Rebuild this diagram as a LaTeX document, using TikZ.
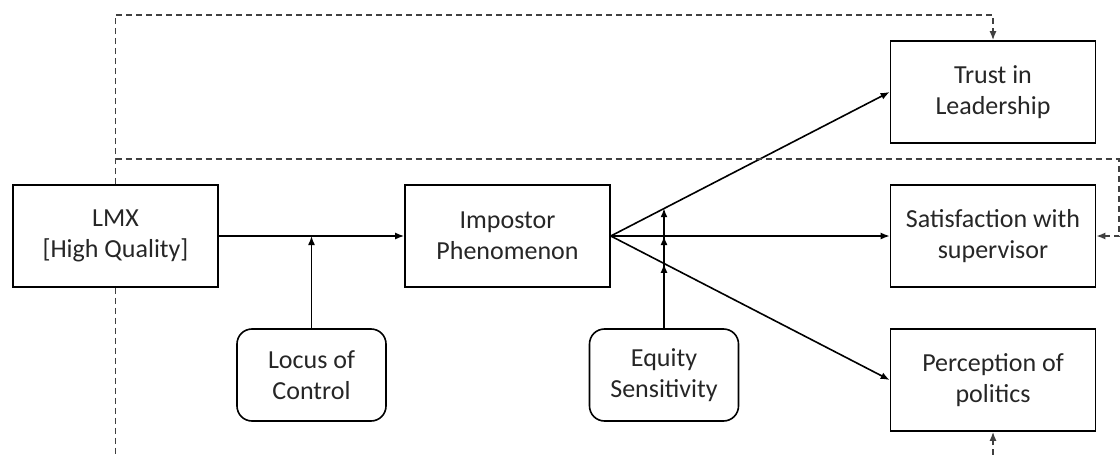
\documentclass[tikz,border=0pt]{standalone}
\usepackage{fontspec}
\setmainfont{Carlito}
\usetikzlibrary{arrows.meta,calc}

\begin{document}
\begin{tikzpicture}[x=0.5pt,y=-0.5pt,
  font=\fontsize{13}{15.5}\selectfont,
  box/.style={draw,line width=0.8pt,minimum width=102.5pt,minimum height=51pt,align=center,inner sep=0pt,text=black!85},
  mod/.style={draw,line width=0.8pt,rounded corners=7.5pt,minimum width=74.5pt,minimum height=46pt,align=center,inner sep=0pt,text=black!85},
  link/.style={line width=0.8pt,-{Latex[length=4.5pt,width=3.5pt]}},
  dashlink/.style={line width=0.8pt,black!75,dash pattern=on 3pt off 2pt}]
\useasboundingbox (0,0) rectangle (1120,455);

% outcome and predictor boxes
\node[box] (lmx)   at (115.5,236) {LMX\\{[High Quality]}};
\node[box] (imp)   at (507.5,236) {Impostor\\Phenomenon};
\node[box] (trust) at (993,92)    {Trust in\\Leadership};
\node[box] (sat)   at (993,236)   {Satisfaction with\\supervisor};
\node[box] (perc)  at (993,380)   {Perception of\\politics};

% moderators
\node[mod] (loc) at (311.5,375) {Locus of\\Control};
\node[mod] (eq)  at (664,375)   {Equity\\Sensitivity};

% main paths
\draw[link] (lmx.east) -- (imp.west);
\draw[link] (imp.east) -- (trust.west);
\draw[link] (imp.east) -- (sat.west);
\draw[link] (imp.east) -- (perc.west);

% moderation arrows
\coordinate (m1) at ($(imp.east)!0.193!(trust.west)$);
\coordinate (m2) at ($(imp.east)!0.193!(sat.west)$);
\coordinate (m3) at ($(imp.east)!0.193!(perc.west)$);
\draw[link] (loc.north) -- (loc.north |- lmx.east);
\draw[link] (eq.north) -- (eq.north |- m1);
\draw[link] (eq.north) -- (eq.north |- m2);
\draw[link] (eq.north) -- (eq.north |- m3);

% direct (dashed) paths
\coordinate (topline) at (0,15);
\coordinate (midline) at (1119,159);
\coordinate (bottom)  at (0,455);
\draw[dashlink,-{Latex[length=4.5pt,width=3.5pt]}] (lmx.north) |- (trust.north |- topline) -- (trust.north);
\draw[dashlink,-{Latex[length=4.5pt,width=3.5pt]}] (lmx.north |- midline) -- (midline) |- (sat.east);
\draw[dashlink] (lmx.south) -- (lmx.south |- bottom);
\draw[dashlink,-{Latex[length=4.5pt,width=3.5pt]}] (perc.south |- bottom) -- (perc.south);
\end{tikzpicture}
\end{document}
